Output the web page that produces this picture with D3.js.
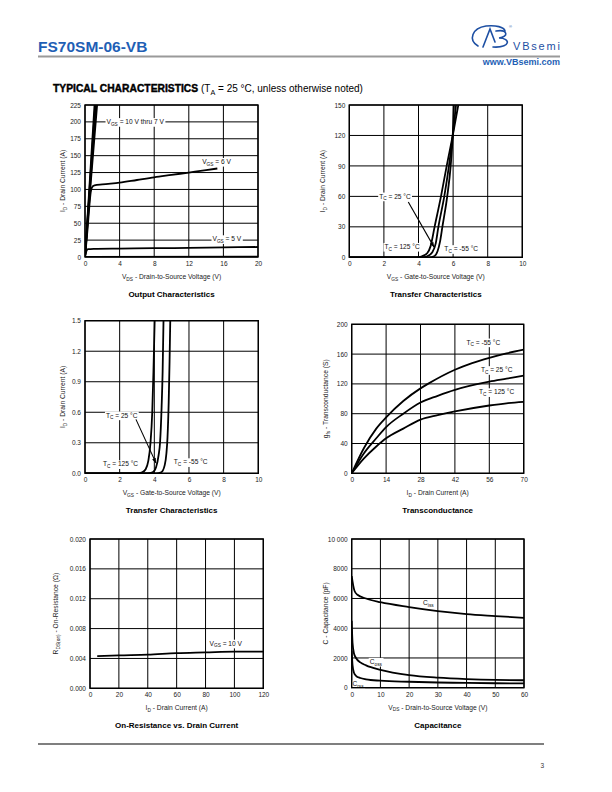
<!DOCTYPE html>
<html><head><meta charset="utf-8">
<script src="https://cdn.jsdelivr.net/npm/d3@7"></script>
<style>body{margin:0;background:#fff}svg{display:block}text{font-family:"Liberation Sans",Arial,sans-serif}</style>
</head><body><svg id="page" width="612" height="792"></svg>
<script>
// ---------- DATA ----------
// Output characteristics
const outXTicks=[0,4,8,12,16,20];
const outYTicks=[0,25,50,75,100,125,150,175,200,225];
const outVgs10=[[0,0],[1.1,225]];
const outVgs9=[[0,0],[1.18,225]];
const outVgs8=[[0,0],[1.26,225]];
const outVgs7=[[0,0],[0.6,100],[1.4,225]];
const outVgs6=[[0,0],[0.3,42],[0.5,75],[0.65,95],[0.8,103],[1.1,106],[2,107.5],[4,110],[6,114],[8,118],[10,121.5],[12,125],[14,128.5],[15.3,131]];
const outVgs5=[[0,0],[0.1,6],[0.2,10],[0.35,11.5],[1,12],[4,12.5],[8,13],[12,13.5],[16,14.2],[20,14.8]];
const outVgs4=[[0,0],[20,0.6]];
// Transfer characteristics (full scale)
const trXTicks=[0,2,4,6,8,10];
const trYTicks=[0,30,60,90,120,150];
const tr125=[[0,0],[3.9,0],[4.2,1],[4.5,4],[4.7,11],[4.93,30],[5.3,60],[5.63,90],[5.98,120],[6.3,150],[6.4,160]];
const tr25=[[0,0],[4.2,0],[4.5,1],[4.8,5],[5.0,14],[5.15,30],[5.49,60],[5.76,90],[5.98,120],[6.17,150],[6.23,160]];
const trM55=[[0,0],[4.6,0],[4.9,1],[5.1,6],[5.25,16],[5.38,30],[5.66,60],[5.86,90],[5.98,120],[6.05,150],[6.08,160]];
// Transfer characteristics (low current)
const tlYTicks=[0,0.3,0.6,0.9,1.2,1.5];
const tl125=[[0,0],[3.0,0],[3.3,0.01],[3.5,0.04],[3.65,0.12],[3.78,0.3],[3.88,0.6],[3.95,1.0],[4.02,1.5],[4.05,1.7]];
const tl25=[[0,0],[3.6,0],[3.9,0.01],[4.1,0.06],[4.25,0.18],[4.33,0.3],[4.42,0.65],[4.48,1.0],[4.53,1.5],[4.56,1.7]];
const tlM55=[[0,0],[4.1,0],[4.4,0.01],[4.6,0.08],[4.7,0.2],[4.76,0.35],[4.83,0.7],[4.88,1.1],[4.92,1.5],[4.95,1.7]];
// Transconductance
const gfXTicks=[0,14,28,42,56,70];
const gfYTicks=[0,40,80,120,160,200];
const gfM55=[[0,0],[5,34],[10,60],[14,75],[21,97],[28,114],[31,120],[42,139],[49,148],[56,155],[63,161],[70,166]];
const gf25=[[0,0],[5,27],[10,47],[14,62],[21,80],[28,95],[35,104],[42,112],[56,123],[63,127],[70,131]];
const gf125=[[0,0],[5,20],[10,36],[14,47],[21,60],[28,72],[35,78],[42,83],[56,91],[63,94],[70,96]];
// On-resistance
const rdXTicks=[0,20,40,60,80,100,120];
const rdYTicks=[0,0.004,0.008,0.012,0.016,0.020];
const rdVgs10=[[5,0.0043],[20,0.0044],[40,0.0045],[60,0.0047],[80,0.0048],[100,0.0049],[120,0.0049]];
// Capacitance
const caXTicks=[0,10,20,30,40,50,60];
const caYTicks=[0,2000,4000,6000,8000,10000];
const caYLabels=["0","2000","4000","6000","8000","10 000"];
const caCiss=[[0,7500],[0.5,6900],[1,6500],[2,6250],[5,6000],[10,5750],[20,5420],[30,5150],[40,4950],[50,4820],[60,4700]];
const caCoss=[[0,4500],[0.3,3000],[0.8,2300],[1.5,2000],[3,1700],[5,1500],[10,1200],[20,850],[30,680],[40,580],[50,520],[60,500]];
const caCrss=[[0,2500],[0.3,1500],[0.8,1000],[1.5,800],[3,650],[5,560],[10,470],[20,400],[30,350],[40,320],[50,300],[60,290]];

// ---------- DRAW ----------
const svg=d3.select("#page");
svg.append("rect").attr("width",612).attr("height",792).attr("fill","#fff");

function rich(sel,segs,fs){
  let shifted=false;
  segs.forEach(([t,s])=>{
    const ts=sel.append("tspan").text(t);
    if(s){ts.attr("font-size",fs*0.72).attr("dy",shifted?0:fs*0.25);shifted=true;}
    else{if(shifted){ts.attr("dy",-fs*0.25);shifted=false;}}
  });
  return sel;
}

// header
const blue="#1f5fb5";
svg.append("text").attr("x",38).attr("y",52).attr("font-size",15.5).attr("font-weight","bold").attr("fill",blue).text("FS70SM-06-VB");
svg.append("line").attr("x1",38).attr("x2",560).attr("y1",56.5).attr("y2",56.5).attr("stroke","#9a9a9a").attr("stroke-width",1.8);
const logo=svg.append("g").attr("fill","none").attr("stroke","#1d4fa3").attr("stroke-width",1.6).attr("stroke-linecap","round");
logo.append("path").attr("d","M478,46 C468,40 472,28 486,26 C496,25 504,27 505,31");
logo.append("path").attr("d","M483,47 L490,29 L495,42");
logo.append("path").attr("d","M496,31 C508,29 509,37 499,38 C511,38 511,48 493,47");
svg.append("text").attr("x",509).attr("y",28).attr("font-size",4).attr("fill","#1d4fa3").text("®");
svg.append("text").attr("x",513).attr("y",50).attr("font-size",11).attr("font-family","'Liberation Serif',serif").attr("letter-spacing",1.8).attr("fill","#1d4fa3").text("VBsemi");
svg.append("text").attr("x",560).attr("y",65).attr("text-anchor","end").attr("font-size",9).attr("font-weight","bold").attr("fill",blue).text("www.VBsemi.com");

const sec=svg.append("text").attr("x",53).attr("y",92).attr("font-size",10.3);
sec.append("tspan").attr("font-weight","bold").attr("stroke","#000").attr("stroke-width",0.4).text("TYPICAL CHARACTERISTICS ");
rich(sec.append("tspan").attr("font-size",10),[["(T",0],["A",1],[" = 25 °C, unless otherwise noted)",0]],10);

// footer
svg.append("line").attr("x1",38).attr("x2",544).attr("y1",744).attr("y2",744).attr("stroke","#000").attr("stroke-width",1.2);
svg.append("text").attr("x",544).attr("y",768).attr("text-anchor","end").attr("font-size",6.5).attr("fill","#333").text("3");

const TF=6.5, AF=6.7, LF=6.6;
let clipId=0;
function chart(c){
  const g=svg.append("g");
  const x=d3.scaleLinear().domain(c.xd).range([c.l,c.r]);
  const y=d3.scaleLinear().domain(c.yd).range([c.b,c.t]);
  const grid=g.append("g").attr("stroke","#000").attr("stroke-width",1);
  grid.selectAll(".v").data(c.xt).join("line").attr("x1",d=>x(d)).attr("x2",d=>x(d)).attr("y1",c.t).attr("y2",c.b);
  grid.selectAll(".h").data(c.yt).join("line").attr("y1",d=>y(d)).attr("y2",d=>y(d)).attr("x1",c.l).attr("x2",c.r);
  const xa=g.append("g").attr("transform",`translate(0,${c.b})`)
    .call(d3.axisBottom(x).tickValues(c.xt).tickSize(0).tickPadding(4.3).tickFormat((d,i)=>c.xlab?c.xlab[i]:String(d)));
  const ya=g.append("g").attr("transform",`translate(${c.l},0)`)
    .call(d3.axisLeft(y).tickValues(c.yt).tickSize(0).tickPadding(4).tickFormat((d,i)=>c.ylab?c.ylab[i]:(c.yfmt?d3.format(c.yfmt)(d):String(d))));
  [xa,ya].forEach(a=>{a.select(".domain").remove();a.selectAll("text").attr("font-size",TF).attr("font-family","'Liberation Sans',Arial,sans-serif").attr("fill","#222");});
  const bgG=g.append("g");
  const id="clip"+(clipId++);
  g.append("clipPath").attr("id",id).append("rect").attr("x",c.l).attr("y",c.t).attr("width",c.r-c.l).attr("height",c.b-c.t);
  const line=d3.line().x(d=>x(d[0])).y(d=>y(d[1])).curve(d3.curveMonotoneX);
  g.append("g").attr("clip-path",`url(#${id})`).selectAll("path").data(c.series).join("path")
    .attr("d",line).attr("fill","none").attr("stroke","#000").attr("stroke-width",1.8).attr("stroke-linejoin","round");
  (c.arrows||[]).forEach(a=>{
    g.append("line").attr("x1",x(a[0][0])).attr("y1",y(a[0][1])).attr("x2",x(a[1][0])).attr("y2",y(a[1][1])).attr("stroke","#000").attr("stroke-width",1.1);
    const ang=Math.atan2(y(a[1][1])-y(a[0][1]),x(a[1][0])-x(a[0][0]));
    const ex=x(a[1][0]),ey=y(a[1][1]),L=5,W=2;
    const p=[[ex,ey],[ex-L*Math.cos(ang)+W*Math.sin(ang),ey-L*Math.sin(ang)-W*Math.cos(ang)],[ex-L*Math.cos(ang)-W*Math.sin(ang),ey-L*Math.sin(ang)+W*Math.cos(ang)]];
    g.append("path").attr("d","M"+p.join("L")+"Z").attr("fill","#000");
  });
  (c.labels||[]).forEach(lb=>{
    const t=g.append("text").attr("x",x(lb.at[0])).attr("y",y(lb.at[1])+2.2).attr("text-anchor","middle").attr("font-size",LF).attr("fill","#111");
    rich(t,lb.segs,LF);
    const bb=t.node().getBBox();
    bgG.append("rect").attr("x",bb.x-1).attr("y",bb.y).attr("width",bb.width+2).attr("height",bb.height).attr("fill","#fff");
  });
  g.append("rect").attr("x",c.l).attr("y",c.t).attr("width",c.r-c.l).attr("height",c.b-c.t).attr("fill","none").attr("stroke","#000").attr("stroke-width",1.4);
  rich(g.append("text").attr("x",(c.l+c.r)/2).attr("y",c.b+22).attr("text-anchor","middle").attr("font-size",AF).attr("fill","#222"),c.xtitle,AF);
  rich(g.append("text").attr("transform",`translate(${c.ytx},${(c.t+c.b)/2}) rotate(-90)`).attr("text-anchor","middle").attr("font-size",AF).attr("fill","#222"),c.ytitle,AF);
  g.append("text").attr("x",(c.l+c.r)/2).attr("y",c.b+40).attr("text-anchor","middle").attr("font-size",8).attr("font-weight","bold").text(c.title);
}

const idT=[["I",0],["D",1],[" - Drain Current (A)",0]];
const vgsT=[["V",0],["GS",1],[" - Gate-to-Source Voltage (V)",0]];
const vdsT=[["V",0],["DS",1],[" - Drain-to-Source Voltage (V)",0]];

chart({l:85,r:258,t:105,b:257,xd:[0,20],yd:[0,225],xt:outXTicks,yt:outYTicks,
  series:[outVgs10,outVgs9,outVgs8,outVgs7,outVgs6,outVgs5,outVgs4],
  labels:[{at:[5.8,200],segs:[["V",0],["GS",1],[" = 10 V thru 7 V",0]]},
          {at:[15.2,141],segs:[["V",0],["GS",1],[" = 6 V",0]]},
          {at:[16.4,26.5],segs:[["V",0],["GS",1],[" = 5 V",0]]}],
  xtitle:vdsT,ytitle:idT,ytx:65,title:"Output Characteristics"});

chart({l:349.3,r:522.3,t:105,b:257.3,xd:[0,10],yd:[0,150],xt:trXTicks,yt:trYTicks,
  series:[tr125,tr25,trM55],
  labels:[{at:[2.64,60],segs:[["T",0],["C",1],[" = 25 °C",0]]},
          {at:[3.05,10.4],segs:[["T",0],["C",1],[" = 125 °C",0]]},
          {at:[6.47,8.2],segs:[["T",0],["C",1],[" = -55 °C",0]]}],
  arrows:[[[3.41,54.5],[4.9,10]]],
  xtitle:vgsT,ytitle:idT,ytx:325,title:"Transfer Characteristics"});

chart({l:85,r:258.3,t:320.7,b:473.3,xd:[0,10],yd:[0,1.5],xt:trXTicks,yt:tlYTicks,yfmt:".1f",
  series:[tl125,tl25,tlM55],
  labels:[{at:[2.12,0.57],segs:[["T",0],["C",1],[" = 25 °C",0]]},
          {at:[2.05,0.09],segs:[["T",0],["C",1],[" = 125 °C",0]]},
          {at:[6.1,0.11],segs:[["T",0],["C",1],[" = -55 °C",0]]}],
  arrows:[[[2.94,0.53],[4.1,0.1]]],
  xtitle:vgsT,ytitle:idT,ytx:65,title:"Transfer Characteristics"});

chart({l:351.7,r:523.7,t:324.3,b:473.3,xd:[0,70],yd:[0,200],xt:gfXTicks,yt:gfYTicks,
  series:[gfM55,gf25,gf125],
  labels:[{at:[53.6,175.8],segs:[["T",0],["C",1],[" = -55 °C",0]]},
          {at:[59,138.7],segs:[["T",0],["C",1],[" = 25 °C",0]]},
          {at:[59,109],segs:[["T",0],["C",1],[" = 125 °C",0]]}],
  xtitle:idT,ytitle:[["g",0],["fs",1],[" - Transconductance (S)",0]],ytx:328,title:"Transconductance"});

chart({l:90,r:263.3,t:539,b:688.3,xd:[0,120],yd:[0,0.02],xt:rdXTicks,yt:rdYTicks,yfmt:".3f",
  series:[rdVgs10],
  labels:[{at:[94,0.006],segs:[["V",0],["GS",1],[" = 10 V",0]]}],
  xtitle:idT,ytitle:[["R",0],["DS(on)",1],[" - On-Resistance (Ω)",0]],ytx:58,title:"On-Resistance vs. Drain Current"});

chart({l:351.7,r:524,t:539,b:687.7,xd:[0,60],yd:[0,10000],xt:caXTicks,yt:caYTicks,ylab:caYLabels,
  series:[caCiss,caCoss,caCrss],
  labels:[{at:[26.7,5676],segs:[["C",0],["iss",1]]},
          {at:[8.4,1748],segs:[["C",0],["oss",1]]},
          {at:[2.2,229],segs:[["C",0],["rss",1]]}],
  xtitle:vdsT,ytitle:[["C - Capacitance (pF)",0]],ytx:328,title:"Capacitance"});
</script></body></html>
